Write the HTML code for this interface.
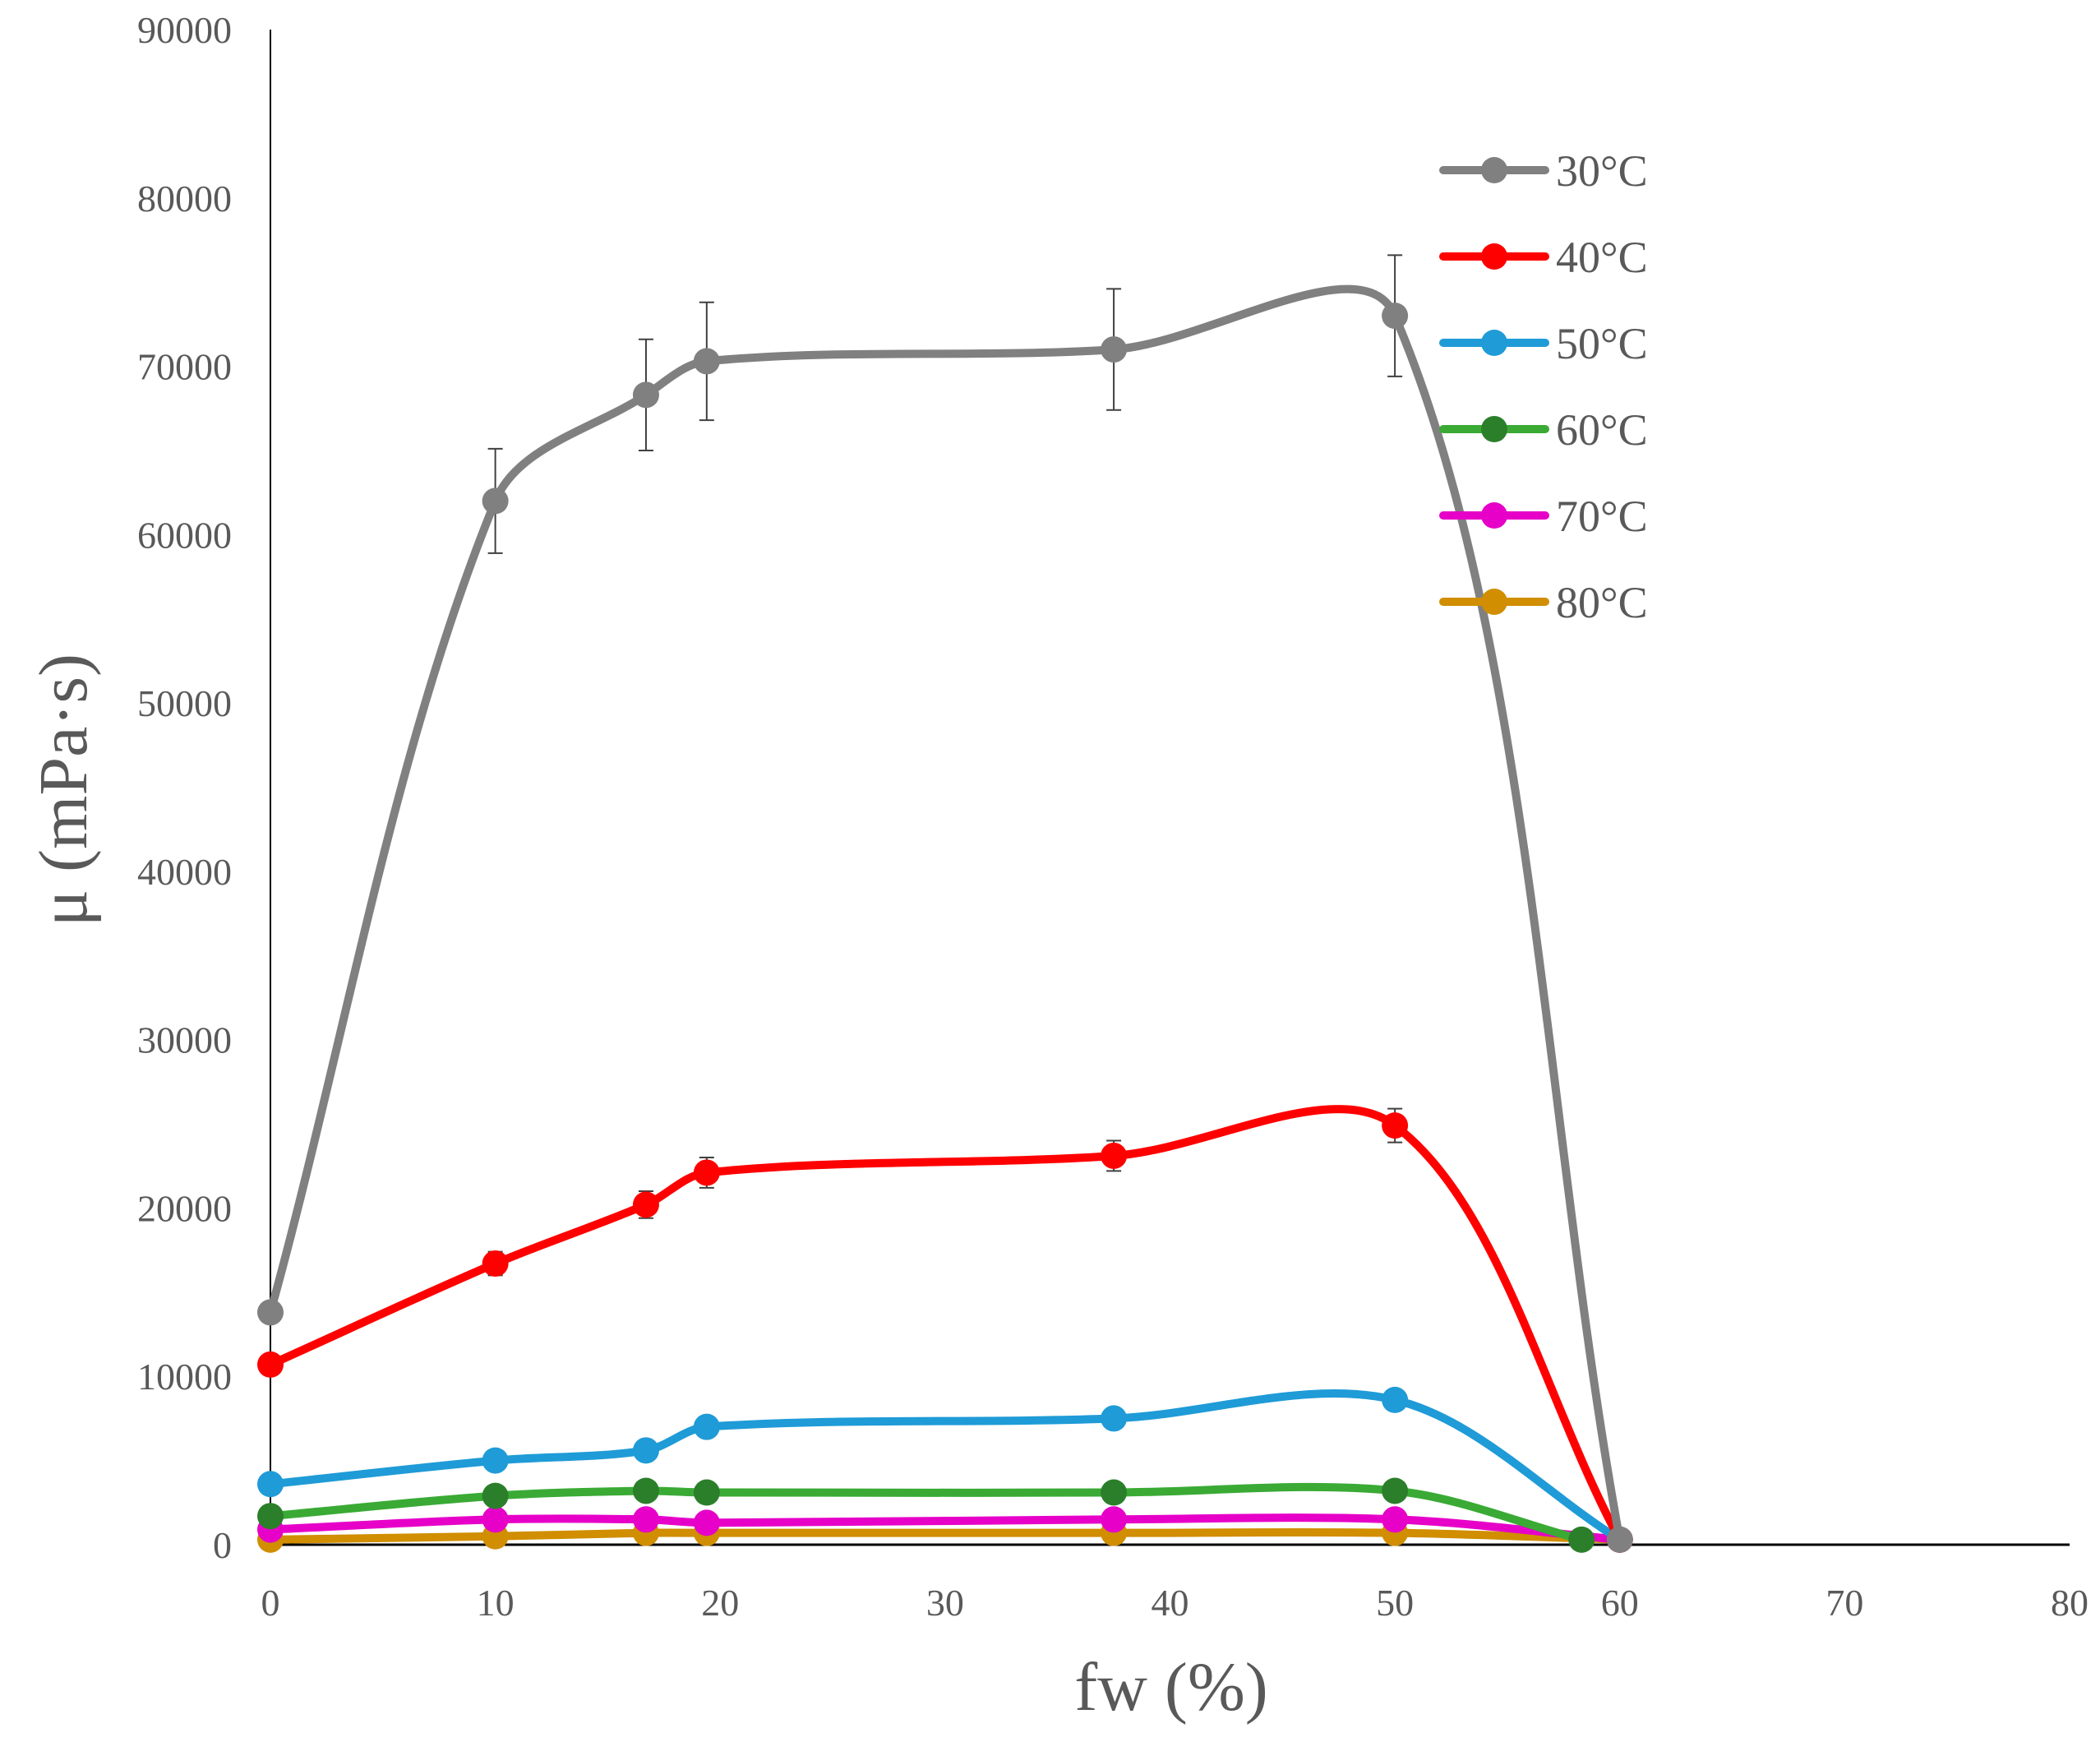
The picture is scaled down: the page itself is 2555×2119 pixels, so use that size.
<!DOCTYPE html>
<html><head><meta charset="utf-8"><style>
html,body{margin:0;padding:0;background:#fff;}
svg{display:block;font-family:"Liberation Serif",serif;}
</style></head><body>
<svg id="chart" width="2555" height="2119" viewBox="0 0 2555 2119">
<g id="axes"></g>
<g id="series"></g>
<g id="legend"></g>
<text x="1425" y="2080" font-size="84" fill="#595959" text-anchor="middle">fw (%)</text>
<text transform="translate(105,961) rotate(-90)" font-size="84" fill="#595959" text-anchor="middle">μ (mPa·s)</text>
</svg>
<script>
const xTicks=[0,10,20,30,40,50,60,70,80];
const yTicks=[0,10000,20000,30000,40000,50000,60000,70000,80000,90000];
const seriesNames=["30°C","40°C","50°C","60°C","70°C","80°C"];
const seriesColors=["#808080","#ff0000","#1f9bd7","#3aaa35","#e600c8","#d08e00"];
const markerColors=["#808080","#ff0000","#1f9bd7","#2b7f2b","#e600c8","#d08e00"];
const xs=[0,10,16.7,19.4,37.5,50,60];
const xsGreen=[0,10,16.7,19.4,37.5,50,58.3];
const v30=[13800,62000,68300,70300,71000,73000,300];
const v40=[10700,16700,20200,22100,23100,24900,300];
const v50=[3600,5000,5600,7000,7500,8600,300];
const v60=[1700,2900,3200,3100,3100,3200,300];
const v70=[900,1500,1500,1300,1500,1500,300];
const v80=[300,500,700,700,700,700,300];
const err30=[0,3100,3300,3500,3600,3600,0];
const err40=[0,700,800,900,900,1000,0];

const NS="http://www.w3.org/2000/svg";
const X=v=>329+(v/80)*(2518-329);
const Y=v=>1879-(v/90000)*(1879-36);
function mk(tag,attrs,parent){const e=document.createElementNS(NS,tag);for(const k in attrs)e.setAttribute(k,attrs[k]);parent.appendChild(e);return e;}
const axes=document.getElementById('axes');
let e=mk('line',{x1:X(0),y1:Y(0),x2:X(0),y2:Y(90000),stroke:'#000','stroke-width':2},axes);


e=mk('line',{x1:X(0),y1:Y(0),x2:X(80),y2:Y(0),stroke:'#000','stroke-width':3},axes);


xTicks.forEach(t=>{const el=mk('text',{x:X(t),y:1965,'font-size':46,fill:'#595959','text-anchor':'middle'},axes);el.textContent=t;

});
yTicks.forEach(t=>{const el=mk('text',{x:282,y:Y(t)+16,'font-size':46,fill:'#595959','text-anchor':'end'},axes);el.textContent=t;

});

const dist=(a,b)=>Math.hypot(a[0]-b[0],a[1]-b[1]);
function smooth(pts){let d=`M${pts[0][0]},${pts[0][1]}`;
for(let i=0;i<pts.length-1;i++){const p0=pts[i-1]||pts[i],p1=pts[i],p2=pts[i+1],p3=pts[i+2]||p2;
const d01=dist(p0,p1),d12=dist(p1,p2),d23=dist(p2,p3);
const f1=d01+d12>0?d12/(d01+d12)/3*2*0.5:0, f2=d12+d23>0?d12/(d12+d23)/3*2*0.5:0;
const c1=[p1[0]+(p2[0]-p0[0])*f1,p1[1]+(p2[1]-p0[1])*f1],c2=[p2[0]-(p3[0]-p1[0])*f2,p2[1]-(p3[1]-p1[1])*f2];
d+=` C${c1[0]},${c1[1]} ${c2[0]},${c2[1]} ${p2[0]},${p2[1]}`;}return d;}
const allVals=[v30,v40,v50,v60,v70,v80];
const allX=[xs,xs,xs,xsGreen,xs,xs];
const errs=[err30,err40,null,null,null,null];
const sg=document.getElementById('series');
for(let s=allVals.length-1;s>=0;s--){
 const g=mk('g',{},sg);
 
 
 const pts=allVals[s].map((v,i)=>[X(allX[s][i]),Y(v)]);
 const p=mk('path',{d:smooth(pts),fill:'none',stroke:seriesColors[s],'stroke-width':10,'stroke-linecap':'round'},g);
 
 
 if(errs[s]) errs[s].forEach((er,i)=>{if(!er)return;const x=X(allX[s][i]),a=Y(allVals[s][i]+er),b=Y(allVals[s][i]-er);
  const eb=mk('path',{d:`M${x},${a}V${b}M${x-9},${a}H${x+9}M${x-9},${b}H${x+9}`,stroke:'#404040','stroke-width':2,fill:'none'},g);
  
  });
 pts.forEach(pt=>{const c=mk('circle',{cx:pt[0],cy:pt[1],r:16,fill:markerColors[s]},g);
  
  });
}
const lg=document.getElementById('legend');
seriesNames.forEach((n,i)=>{const y=207+i*105;const g=mk('g',{},lg);
 
 
 mk('line',{x1:1756,y1:y,x2:1880,y2:y,stroke:seriesColors[i],'stroke-width':10,'stroke-linecap':'round'},g);
 mk('circle',{cx:1818,cy:y,r:16,fill:markerColors[i]},g);
 const t=mk('text',{x:1893,y:y+19,'font-size':54,fill:'#595959'},g);t.textContent=n;});
</script>
</body></html>
